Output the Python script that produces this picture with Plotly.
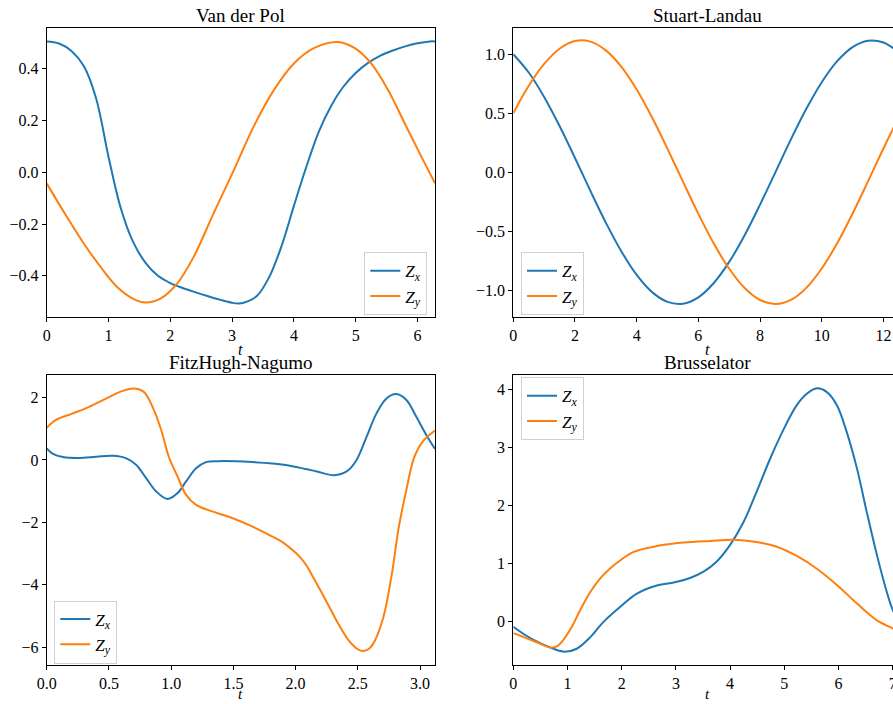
import plotly.graph_objects as go

# ---------------- data ----------------
# Van der Pol
vdp_t_x = [0, 0.2, 0.4, 0.6, 0.8, 1.0, 1.2, 1.4, 1.6, 1.8, 2.0, 2.2, 2.4, 2.6, 2.8, 3.0,
           3.1, 3.2, 3.4, 3.6, 3.8, 4.0, 4.2, 4.4, 4.6, 4.8, 5.0, 5.2, 5.4, 5.6, 5.8, 6.0,
           6.2, 6.2832]
vdp_zx = [0.505, 0.497, 0.468, 0.41, 0.285, 0.06, -0.14, -0.27, -0.35, -0.40, -0.428,
          -0.447, -0.463, -0.478, -0.492, -0.504, -0.507, -0.503, -0.478, -0.405, -0.285,
          -0.13, 0.02, 0.155, 0.255, 0.33, 0.383, 0.422, 0.45, 0.47, 0.486, 0.498,
          0.505, 0.505]
vdp_t_y = [0, 0.32, 0.6, 0.87, 1.14, 1.41, 1.6, 1.84, 2.11, 2.38, 2.7, 3.03, 3.35, 3.68,
           4.0, 4.33, 4.71, 4.98, 5.25, 5.52, 5.79, 6.06, 6.2832]
vdp_zy = [-0.043, -0.17, -0.275, -0.365, -0.443, -0.49, -0.503, -0.488, -0.43, -0.326,
          -0.159, 0.009, 0.177, 0.319, 0.42, 0.48, 0.503, 0.48, 0.42, 0.319, 0.19, 0.061,
          -0.043]

# Stuart-Landau
sl_t = [0, 0.5, 1.0, 1.5, 2.0, 2.5, 3.0, 3.5, 4.0, 4.5, 5.0, 5.5, 6.0, 6.5, 7.0, 7.5,
        8.0, 8.5, 9.0, 9.5, 10.0, 10.5, 11.0, 11.5, 12.0, 12.5, 12.566]
sl_zx = [1.0, 0.845, 0.638, 0.391, 0.120, -0.159, -0.428, -0.670, -0.871, -1.017, -1.100,
         -1.115, -1.061, -0.940, -0.761, -0.535, -0.275, 0.001, 0.278, 0.537, 0.763, 0.941,
         1.061, 1.115, 1.100, 1.016, 1.0]
sl_zy = [0.5, 0.732, 0.918, 1.047, 1.112, 1.107, 1.033, 0.895, 0.701, 0.464, 0.198,
         -0.080, -0.354, -0.605, -0.819, -0.982, -1.084, -1.118, -1.083, -0.981, -0.817,
         -0.603, -0.351, -0.078, 0.201, 0.467, 0.5]

# FitzHugh-Nagumo
fhn_t_x = [0, 0.05, 0.13, 0.26, 0.40, 0.53, 0.64, 0.72, 0.80, 0.88, 0.97, 1.05, 1.12,
           1.20, 1.28, 1.38, 1.65, 1.92, 2.08, 2.17, 2.31, 2.41, 2.49, 2.57, 2.65, 2.73,
           2.81, 2.89, 2.97, 3.05, 3.12]
fhn_zx = [0.37, 0.19, 0.09, 0.06, 0.10, 0.13, 0.05, -0.16, -0.59, -1.01, -1.25, -1.07,
          -0.69, -0.27, -0.07, -0.04, -0.07, -0.16, -0.29, -0.37, -0.49, -0.37, 0.0, 0.74,
          1.49, 1.97, 2.11, 1.92, 1.38, 0.80, 0.35]
fhn_t_y = [0, 0.075, 0.21, 0.34, 0.48, 0.61, 0.70, 0.78, 0.85, 0.92, 0.98, 1.05, 1.12,
           1.20, 1.33, 1.49, 1.65, 1.81, 1.90, 1.97, 2.03, 2.09, 2.14, 2.25, 2.35, 2.43,
           2.49, 2.54, 2.58, 2.62, 2.70, 2.77, 2.83, 2.89, 2.95, 3.02, 3.12]
fhn_zy = [1.03, 1.28, 1.49, 1.70, 1.97, 2.21, 2.29, 2.18, 1.70, 0.96, 0.11, -0.52, -1.12,
          -1.44, -1.65, -1.86, -2.13, -2.45, -2.65, -2.87, -3.09, -3.40, -3.75, -4.55,
          -5.30, -5.80, -6.04, -6.12, -6.08, -5.91, -5.11, -3.73, -2.13, -0.96, 0.05,
          0.58, 0.94]

# Brusselator
br_t_x = [0, 0.25, 0.49, 0.74, 0.95, 1.17, 1.42, 1.66, 1.97, 2.28, 2.65, 3.0, 3.26, 3.51,
          3.75, 4.0, 4.25, 4.49, 4.74, 4.98, 5.23, 5.42, 5.6, 5.78, 5.97, 6.15, 6.34,
          6.52, 6.71, 6.89, 7.0, 7.16]
br_zx = [-0.09, -0.25, -0.37, -0.47, -0.52, -0.47, -0.27, -0.01, 0.25, 0.48, 0.62, 0.68,
         0.75, 0.86, 1.03, 1.32, 1.72, 2.24, 2.81, 3.3, 3.73, 3.93, 4.02, 3.96, 3.73, 3.27,
         2.64, 1.89, 1.14, 0.51, 0.2, -0.09]
br_t_y = [0, 0.25, 0.49, 0.68, 0.80, 0.92, 1.08, 1.23, 1.42, 1.60, 1.78, 1.94, 2.22, 2.65,
          3.14, 3.63, 4.06, 4.49, 4.86, 5.23, 5.6, 5.97, 6.34, 6.71, 7.0, 7.16]
br_zy = [-0.2, -0.29, -0.38, -0.45, -0.43, -0.32, -0.09, 0.19, 0.51, 0.74, 0.91, 1.03,
         1.2, 1.3, 1.36, 1.39, 1.41, 1.37, 1.29, 1.13, 0.91, 0.63, 0.31, 0.02, -0.12, -0.2]

titles = ["Van der Pol", "Stuart-Landau", "FitzHugh-Nagumo", "Brusselator"]
series_names = ["<i>Z<sub>x</sub></i>", "<i>Z<sub>y</sub></i>"]

vdp_xticks = [0, 1, 2, 3, 4, 5, 6]
vdp_yticks = [-0.4, -0.2, 0.0, 0.2, 0.4]
vdp_ytext = ["\u22120.4", "\u22120.2", "0.0", "0.2", "0.4"]
sl_xticks = [0, 2, 4, 6, 8, 10, 12]
sl_yticks = [-1.0, -0.5, 0.0, 0.5, 1.0]
sl_ytext = ["\u22121.0", "\u22120.5", "0.0", "0.5", "1.0"]
fhn_xticks = [0.0, 0.5, 1.0, 1.5, 2.0, 2.5, 3.0]
fhn_xtext = ["0.0", "0.5", "1.0", "1.5", "2.0", "2.5", "3.0"]
fhn_yticks = [-6, -4, -2, 0, 2]
fhn_ytext = ["\u22126", "\u22124", "\u22122", "0", "2"]
br_xticks = [0, 1, 2, 3, 4, 5, 6, 7]
br_yticks = [0, 1, 2, 3, 4]

# ---------------- figure ----------------
W, H = 893, 704
BLUE, ORANGE = "#1f77b4", "#ff7f0e"
FONT = "Liberation Serif"

def px_x(v):
    return v / W

def px_y(v):
    return 1 - v / H

left_dom = [px_x(46.7), px_x(435.0)]
right_dom = [px_x(513.3), 1.0]
top_dom = [px_y(317.0), px_y(27.7)]
bot_dom = [px_y(665.0), px_y(375.0)]

fig = go.Figure()

panels = [
    (vdp_t_x, vdp_zx, vdp_t_y, vdp_zy, "x", "y", "legend"),
    (sl_t, sl_zx, sl_t, sl_zy, "x2", "y2", "legend2"),
    (fhn_t_x, fhn_zx, fhn_t_y, fhn_zy, "x3", "y3", "legend3"),
    (br_t_x, br_zx, br_t_y, br_zy, "x4", "y4", "legend4"),
]
for tx, zx, ty, zy, xa, ya, lg in panels:
    fig.add_trace(go.Scatter(x=tx, y=zx, mode="lines", name=series_names[0],
                             line=dict(color=BLUE, width=2, shape="spline", smoothing=1.0),
                             xaxis=xa, yaxis=ya, legend=lg))
    fig.add_trace(go.Scatter(x=ty, y=zy, mode="lines", name=series_names[1],
                             line=dict(color=ORANGE, width=2, shape="spline", smoothing=1.0),
                             xaxis=xa, yaxis=ya, legend=lg))

axis_common = dict(showline=True, linecolor="black", linewidth=1, ticks="outside",
                   ticklen=4, tickwidth=1, tickcolor="black", showgrid=False,
                   zeroline=False, automargin=False, ticklabeloverflow="allow",
                   tickfont=dict(family=FONT, size=16, color="black"))

fig.update_layout(
    xaxis=dict(domain=left_dom, range=[0, 6.2832], tickvals=vdp_xticks, mirror=True,
               anchor="y", **axis_common),
    yaxis=dict(domain=top_dom, range=[-0.559, 0.558], tickvals=vdp_yticks,
               ticktext=vdp_ytext, mirror=True, anchor="x", **axis_common),
    xaxis2=dict(domain=right_dom, range=[0, 12.31], tickvals=sl_xticks, mirror=True,
                anchor="y2", **axis_common),
    yaxis2=dict(domain=top_dom, range=[-1.228, 1.225], tickvals=sl_yticks,
                ticktext=sl_ytext, mirror=False, anchor="x2", **axis_common),
    xaxis3=dict(domain=left_dom, range=[0, 3.12], tickvals=fhn_xticks, ticktext=fhn_xtext,
                mirror=True, anchor="y3", **axis_common),
    yaxis3=dict(domain=bot_dom, range=[-6.57, 2.72], tickvals=fhn_yticks,
                ticktext=fhn_ytext, mirror=True, anchor="x3", **axis_common),
    xaxis4=dict(domain=right_dom, range=[0, 7.005], tickvals=br_xticks, mirror=True,
                anchor="y4", **axis_common),
    yaxis4=dict(domain=bot_dom, range=[-0.75, 4.25], tickvals=br_yticks,
                mirror=False, anchor="x4", **axis_common),
)

leg_common = dict(bgcolor="white", bordercolor="#d0d0d0", borderwidth=1,
                  font=dict(family=FONT, size=17, color="black"),
                  tracegroupgap=0, itemwidth=30)
fig.update_layout(
    legend=dict(x=px_x(427.3), xanchor="right", y=px_y(283.8), yanchor="middle", **leg_common),
    legend2=dict(x=px_x(521.0), xanchor="left", y=px_y(283.8), yanchor="middle", **leg_common),
    legend3=dict(x=px_x(54.3), xanchor="left", y=px_y(632.0), yanchor="middle", **leg_common),
    legend4=dict(x=px_x(521.0), xanchor="left", y=px_y(408.8), yanchor="middle", **leg_common),
)

annotations = []
centers = [sum(left_dom) / 2, (right_dom[0] + px_x(901.6)) / 2,
           sum(left_dom) / 2, (right_dom[0] + px_x(901.6)) / 2]
tops = [top_dom[1], top_dom[1], bot_dom[1], bot_dom[1]]
for title, cx, ty in zip(titles, centers, tops):
    annotations.append(dict(text=title, x=cx, y=ty, xref="paper", yref="paper",
                            xanchor="center", yanchor="bottom", yshift=0, showarrow=False,
                            font=dict(family=FONT, size=19, color="black")))
# x-axis labels "t"
for cx in (centers[0], centers[1]):
    annotations.append(dict(text="<i>t</i>", x=cx, y=px_y(349), xref="paper", yref="paper",
                            xanchor="center", yanchor="middle", showarrow=False,
                            font=dict(family=FONT, size=16, color="black")))
for cx in (centers[2], centers[3]):
    annotations.append(dict(text="<i>t</i>", x=cx, y=0, xref="paper", yref="paper",
                            xanchor="center", yanchor="bottom", showarrow=False,
                            font=dict(family=FONT, size=15, color="black")))

fig.update_layout(
    annotations=annotations,
    width=W, height=H,
    margin=dict(l=0, r=0, t=0, b=0),
    paper_bgcolor="white", plot_bgcolor="white",
    template="none",
    showlegend=True,
)

fig.write_html("out.html")
